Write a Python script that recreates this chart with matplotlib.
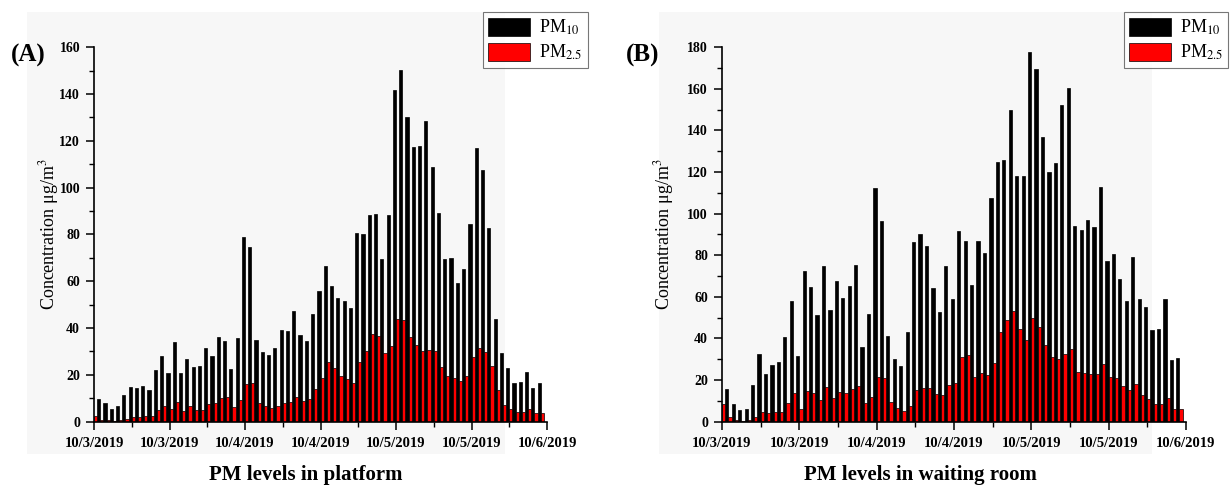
import numpy as np
import matplotlib.pyplot as plt
import matplotlib.patches as mpatches
from matplotlib.ticker import MultipleLocator

plt.rcParams['font.family'] = ['Liberation Serif', 'DejaVu Serif']
plt.rcParams['mathtext.fontset'] = 'stix'

# hourly values, 10/3/2019 00:00 .. 10/5/2019 23:00 (hour 0 PM10 bar lies outside the axis)
hours = np.arange(72)

pm10_platform = [np.nan,
    9.9, 8.1, 5.3, 6.5, 11.4, 14.8, 14.5, 15.4, 13.4, 21.9,
    28.1, 20.9, 34.1, 20.6, 26.8, 23.3, 23.7, 31.4, 28.2, 36.4,
    34.7, 22.4, 35.7, 79.1, 74.7, 35.0, 29.6, 28.6, 31.7, 39.0,
    38.8, 47.1, 37.1, 34.5, 46.2, 56.0, 66.5, 58.0, 52.7, 51.6,
    48.6, 80.8, 80.1, 88.3, 88.7, 69.7, 88.5, 141.7, 150.3, 130.1,
    117.5, 117.9, 128.3, 108.7, 89.2, 69.5, 69.9, 59.3, 65.2, 84.3,
    117.1, 107.7, 82.6, 43.9, 29.2, 22.8, 16.5, 17.0, 21.1, 14.2,
    16.4]
pm25_platform = [
    2.4, 0.6, 0.6, 0.3, 0.6, 1.3, 2.0, 2.0, 2.3, 2.3,
    5.2, 6.6, 5.5, 8.5, 4.7, 6.9, 5.2, 5.2, 7.6, 7.9,
    10.1, 10.4, 6.2, 9.4, 16.1, 16.5, 8.1, 6.6, 6.0, 6.5,
    8.1, 8.3, 10.4, 8.8, 9.5, 14.0, 18.6, 25.5, 23.1, 19.5,
    18.4, 16.7, 25.4, 30.3, 37.5, 36.6, 29.3, 32.3, 43.7, 43.4,
    36.3, 32.6, 30.2, 30.6, 30.2, 23.4, 19.7, 18.7, 17.5, 19.7,
    27.6, 31.5, 29.9, 23.9, 13.7, 7.1, 5.4, 4.3, 4.3, 5.6,
    3.7, 3.6]

pm10_waiting = [np.nan,
    15.7, 8.7, 5.8, 6.3, 17.8, 32.5, 22.9, 27.1, 28.8, 40.9,
    58.2, 31.7, 72.4, 64.7, 51.4, 75.0, 53.8, 67.5, 59.5, 65.4,
    75.5, 35.9, 51.9, 112.2, 96.6, 41.0, 30.3, 26.8, 43.3, 86.5,
    90.1, 84.5, 64.1, 52.9, 75.0, 59.2, 91.8, 86.9, 65.5, 86.9,
    80.9, 107.4, 124.7, 125.6, 149.7, 118.3, 118.3, 177.6, 169.6, 137.0,
    120.0, 124.2, 152.1, 160.6, 94.1, 92.1, 96.8, 93.6, 112.7, 77.2,
    80.6, 68.4, 57.9, 79.0, 59.0, 55.3, 44.1, 44.6, 59.1, 29.5,
    30.8]
pm25_waiting = [
    8.3, 2.2, 1.0, 0.5, 0.6, 2.2, 4.8, 4.0, 4.6, 4.8,
    8.8, 13.8, 6.3, 14.6, 13.6, 10.6, 16.5, 11.2, 14.3, 13.6,
    15.9, 17.3, 9.0, 11.9, 21.5, 20.8, 9.3, 6.7, 5.0, 7.7,
    15.4, 16.0, 16.2, 13.5, 12.7, 17.5, 18.8, 31.3, 32.2, 21.3,
    23.6, 22.6, 28.2, 43.3, 48.9, 53.2, 44.4, 39.3, 49.7, 45.7,
    36.7, 31.3, 30.0, 32.4, 34.8, 23.7, 23.6, 22.8, 22.9, 27.9,
    21.6, 20.8, 17.1, 15.4, 17.9, 12.7, 10.7, 8.7, 8.7, 11.5,
    6.1, 6.1]

tick_hours = [0, 12, 24, 36, 48, 60, 72]
tick_labels = ['10/3/2019', '10/3/2019', '10/4/2019', '10/4/2019',
               '10/5/2019', '10/5/2019', '10/6/2019']

panels = [
    dict(pm10=pm10_platform, pm25=pm25_platform, ymax=160, tag='(A)',
         title='PM levels in platform', rect=[0.0763, 0.1323, 0.3677, 0.7704],
         bg=[0.022, 0.065, 0.388, 0.91], tag_x=0.009, title_x=0.248, leg_x=0.392,
         ylab_x=-0.072),
    dict(pm10=pm10_waiting, pm25=pm25_waiting, ymax=180, tag='(B)',
         title='PM levels in waiting room', rect=[0.586, 0.1323, 0.3766, 0.7704],
         bg=[0.535, 0.065, 0.40, 0.91], tag_x=0.508, title_x=0.747, leg_x=0.912,
         ylab_x=-0.1),
]

fig = plt.figure(figsize=(12.32, 4.86), dpi=100)

for p in panels:
    # faint grey panel background, kept behind the axes
    fig.patches.append(mpatches.Rectangle((p['bg'][0], p['bg'][1]), p['bg'][2], p['bg'][3],
                                          transform=fig.transFigure, facecolor='#f7f7f7',
                                          edgecolor='none', zorder=-5))
    ax = fig.add_axes(p['rect'])
    ax.set_facecolor('none')
    ax.bar(hours - 0.25, p['pm10'], width=0.5, color='black', edgecolor='black',
           linewidth=0.5, label='PM$_{10}$')
    ax.bar(hours + 0.25, p['pm25'], width=0.5, color='red', edgecolor='black',
           linewidth=0.5, label='PM$_{2.5}$')

    ax.set_xlim(0, 72)
    ax.set_ylim(0, p['ymax'])
    ax.spines['top'].set_visible(False)
    ax.spines['right'].set_visible(False)
    for s in ('left', 'bottom'):
        ax.spines[s].set_linewidth(1.2)
    ax.set_xticks(tick_hours)
    ax.set_xticklabels(tick_labels, fontsize=10.5, fontweight='bold')
    ax.xaxis.set_minor_locator(MultipleLocator(6))
    ax.yaxis.set_major_locator(MultipleLocator(20))
    ax.yaxis.set_minor_locator(MultipleLocator(10))
    ax.tick_params(axis='y', labelsize=10, direction='out', length=6, width=1.1, pad=4)
    ax.tick_params(axis='x', direction='out', length=6, width=1.1, pad=5)
    ax.tick_params(which='minor', direction='out', length=3.5, width=1.0)
    for lbl in ax.get_yticklabels():
        lbl.set_fontweight('bold')
    ax.set_ylabel('Concentration μg/m$^3$', fontsize=13)
    ax.yaxis.set_label_coords(p['ylab_x'], 0.5)

    fig.text(p['tag_x'], 0.885, p['tag'], fontsize=18, fontweight='bold', va='center')
    fig.text(p['title_x'], 0.022, p['title'], fontsize=15, fontweight='bold',
             ha='center', va='center')

    leg = ax.legend(loc='upper left', bbox_to_anchor=(p['leg_x'], 0.975),
                    bbox_transform=fig.transFigure, fontsize=13, frameon=True,
                    fancybox=False, handlelength=2.3, handleheight=1.2,
                    handletextpad=0.5, labelspacing=0.3, borderpad=0.3,
                    borderaxespad=0)
    leg.get_frame().set_edgecolor('#555555')
    leg.get_frame().set_linewidth(0.8)
    leg.get_frame().set_facecolor('white')

fig.savefig('out.png', dpi=100, facecolor='white')
